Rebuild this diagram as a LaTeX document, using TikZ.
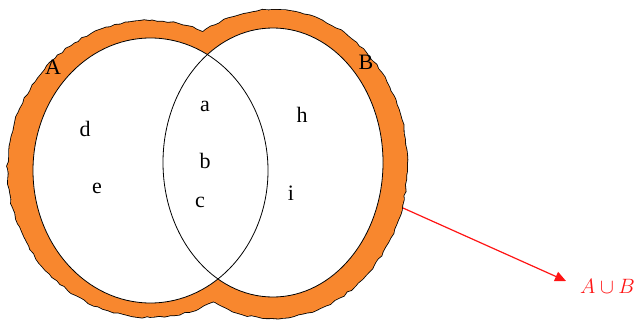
\documentclass[tikz,border=0pt]{standalone}
\usepackage{fontspec}
\setmainfont{Liberation Serif}
\usetikzlibrary{decorations.pathmorphing,arrows.meta}
\definecolor{vorange}{RGB}{248,135,46}
\definecolor{vred}{RGB}{255,20,20}
\begin{document}
\begin{tikzpicture}[x=1pt,y=-1pt,
  lbl/.style={font=\fontsize{22}{22}\selectfont, inner sep=0pt},
  rough/.style={decorate, decoration={random steps, segment length=5pt, amplitude=0.9pt}},
  setline/.style={draw=black, line width=0.8pt}]
\useasboundingbox (0,0) rectangle (644,321);
% orange halo: black rim first, then fill
\pgfmathsetseed{11}
\draw[rough, draw=black, line width=1.6pt] (150,169) ellipse [x radius=142pt, y radius=148pt];
\pgfmathsetseed{23}
\draw[rough, draw=black, line width=1.6pt] (273,164) ellipse [x radius=134pt, y radius=154pt];
\pgfmathsetseed{11}
\fill[rough, vorange] (150,169) ellipse [x radius=142pt, y radius=148pt];
\pgfmathsetseed{23}
\fill[rough, vorange] (273,164) ellipse [x radius=134pt, y radius=154pt];
% set interiors
\fill[white] (150.5,170.5) ellipse [x radius=117.5pt, y radius=132.5pt];
\fill[white] (273,162.5) ellipse [x radius=110pt, y radius=134.5pt];
\draw[setline] (150.5,170.5) ellipse [x radius=117.5pt, y radius=132.5pt];
\draw[setline] (273,162.5) ellipse [x radius=110pt, y radius=134.5pt];
% labels
\node[lbl] (labA) at (53,67) {A};
\node[lbl] (labB) at (366,62) {B};
\node[lbl] (a) at (205,106) {a};
\node[lbl] (b) at (205,161) {b};
\node[lbl] (c) at (200,202) {c};
\node[lbl] (d) at (85,129) {d};
\node[lbl] (e) at (97,188) {e};
\node[lbl] (h) at (302,115) {h};
\node[lbl] (i) at (291,193) {i};
% arrow to A union B
\coordinate (arrowstart) at (403,208);
\coordinate (arrowend) at (566,281);
\node[lbl, text=vred, anchor=west] (union) at (580,286) {$A\cup B$};
\draw[vred, line width=1.2pt, -{Triangle[length=11pt,width=10pt]}] (arrowstart) -- (arrowend);
\end{tikzpicture}
\end{document}
